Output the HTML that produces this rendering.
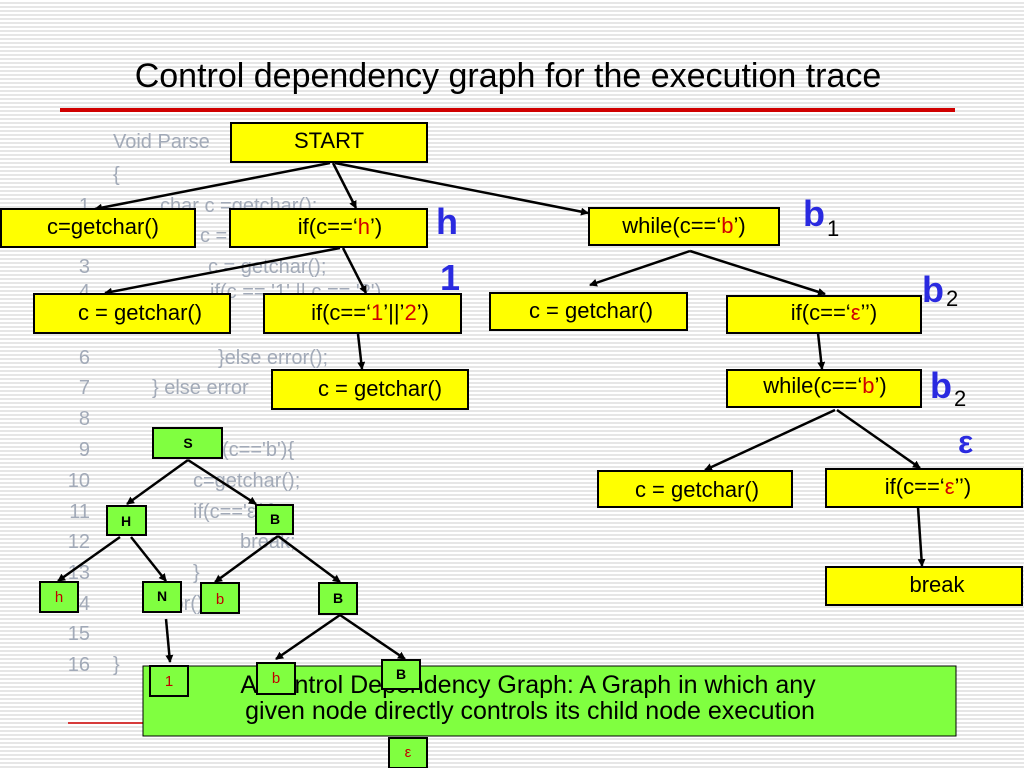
<!DOCTYPE html>
<html><head><meta charset="utf-8"><style>
html,body{margin:0;padding:0}
body{width:1024px;height:768px;overflow:hidden;background:#fff repeating-linear-gradient(180deg,#fff 0,#fff 2px,#e6e6e6 2px,#e6e6e6 4px);}
svg{position:absolute;left:0;top:0}
text{font-family:"Liberation Sans","DejaVu Sans",sans-serif}
</style></head><body>
<svg width="1024" height="768" viewBox="0 0 1024 768">
<defs><marker id="a" markerWidth="8" markerHeight="8" refX="7" refY="4" orient="auto" markerUnits="userSpaceOnUse"><path d="M0,0 L8,4 L0,8 z" fill="#000"/></marker></defs>
<text x="508" y="87" font-size="34" text-anchor="middle" fill="#000">Control dependency graph for the execution trace</text>
<rect x="60" y="108" width="895" height="4" fill="#d00000"/>
<line x1="68" y1="723" x2="955" y2="723" stroke="#d00000" stroke-width="1.5"/>
<g fill="#a2aab8" font-size="20">
<text x="113" y="148">Void Parse</text>
<text x="113" y="181">{</text>
<text x="160" y="212">char c =getchar();</text>
<text x="200" y="242">c =</text>
<text x="208" y="273">c = getchar();</text>
<text x="210" y="298">if(c == '1' || c == '2')</text>
<text x="218" y="364">}else error();</text>
<text x="152" y="394">} else error</text>
<text x="222" y="456">(c=='b'){</text>
<text x="193" y="487">c=getchar();</text>
<text x="193" y="518">if(c=='ε'){</text>
<text x="240" y="548">break;</text>
<text x="193" y="579">}</text>
<text x="148" y="610">error();</text>
<text x="113" y="671">}</text>
<g text-anchor="end">
<text x="90" y="212">1</text><text x="90" y="273">3</text><text x="90" y="298">4</text><text x="90" y="333">5</text>
<text x="90" y="364">6</text><text x="90" y="394">7</text><text x="90" y="425">8</text><text x="90" y="456">9</text>
<text x="90" y="487">10</text><text x="90" y="518">11</text><text x="90" y="548">12</text><text x="90" y="579">13</text>
<text x="90" y="610">14</text><text x="90" y="640">15</text><text x="90" y="671">16</text>
</g></g>
<g stroke="#000" stroke-width="2.5" fill="none" marker-end="url(#a)">
<line x1="330" y1="163" x2="95" y2="209"/>
<line x1="333" y1="163" x2="356" y2="208"/>
<line x1="335" y1="163" x2="588" y2="213"/>
<line x1="340" y1="248" x2="105" y2="293"/>
<line x1="343" y1="248" x2="366" y2="293"/>
<line x1="358" y1="334" x2="362" y2="369"/>
<line x1="690" y1="251" x2="590" y2="285"/>
<line x1="690" y1="251" x2="825" y2="294"/>
<line x1="818" y1="333" x2="822" y2="369"/>
<line x1="835" y1="410" x2="705" y2="470"/>
<line x1="837" y1="410" x2="920" y2="468"/>
<line x1="918" y1="507" x2="922" y2="566"/>
<line x1="188" y1="460" x2="127" y2="504"/>
<line x1="188" y1="460" x2="256" y2="504"/>
<line x1="120" y1="537" x2="58" y2="581"/>
<line x1="131" y1="537" x2="166" y2="581"/>
<line x1="278" y1="536" x2="215" y2="582"/>
<line x1="278" y1="536" x2="340" y2="582"/>
<line x1="166" y1="619" x2="170" y2="662"/>
<line x1="340" y1="615" x2="276" y2="659"/>
<line x1="340" y1="615" x2="405" y2="659"/>
<line x1="400" y1="690" x2="404" y2="735"/>
</g>
<rect x="143" y="666" width="813" height="70" fill="#80ff40" stroke="#000" stroke-width="1"/>
<text x="528" y="693" font-size="25" text-anchor="middle">A Control Dependency Graph: A Graph in which any</text>
<text x="530" y="719" font-size="25" text-anchor="middle">given node directly controls its child node execution</text>
<g stroke="#000" stroke-width="2" fill="#ffff00">
<rect x="231" y="123" width="196" height="39"/>
<rect x="1" y="209" width="194" height="38"/>
<rect x="230" y="209" width="197" height="38"/>
<rect x="589" y="208" width="190" height="37"/>
<rect x="34" y="294" width="196" height="39"/>
<rect x="264" y="294" width="197" height="39"/>
<rect x="490" y="293" width="197" height="37"/>
<rect x="727" y="296" width="194" height="37"/>
<rect x="272" y="370" width="196" height="39"/>
<rect x="727" y="370" width="194" height="37"/>
<rect x="598" y="471" width="194" height="36"/>
<rect x="826" y="469" width="196" height="38"/>
<rect x="826" y="567" width="196" height="38"/>
</g>
<g font-size="22" text-anchor="middle" fill="#000">
<text x="329" y="148">START</text>
<text x="103" y="234">c=getchar()</text>
<text x="340" y="234">if(c==‘<tspan fill="#d00000">h</tspan>’)</text>
<text x="684" y="233">while(c==‘<tspan fill="#d00000">b</tspan>’)</text>
<text x="140" y="320">c = getchar()</text>
<text x="370" y="320">if(c==‘<tspan fill="#d00000">1</tspan>’||’<tspan fill="#d00000">2</tspan>’)</text>
<text x="591" y="318">c = getchar()</text>
<text x="834" y="320">if(c==‘<tspan fill="#d00000">ε</tspan>’’)</text>
<text x="380" y="396">c = getchar()</text>
<text x="825" y="393">while(c==‘<tspan fill="#d00000">b</tspan>’)</text>
<text x="697" y="497">c = getchar()</text>
<text x="928" y="494">if(c==‘<tspan fill="#d00000">ε</tspan>’’)</text>
<text x="937" y="592">break</text>
</g>
<g font-weight="bold" font-size="36" fill="#2a2ae0">
<text x="436" y="234">h</text>
<text x="440" y="290">1</text>
<text x="803" y="226">b</text>
<text x="922" y="302">b</text>
<text x="930" y="398">b</text>
<text x="958" y="453" font-size="32">ε</text>
</g>
<g font-size="22" fill="#000">
<text x="827" y="236">1</text><text x="946" y="306">2</text><text x="954" y="406">2</text>
</g>
<g stroke="#000" stroke-width="2" fill="#80ff40">
<rect x="153" y="428" width="69" height="30"/>
<rect x="107" y="506" width="39" height="29"/>
<rect x="256" y="505" width="37" height="29"/>
<rect x="40" y="582" width="38" height="30"/>
<rect x="143" y="582" width="38" height="30"/>
<rect x="201" y="583" width="38" height="30"/>
<rect x="319" y="583" width="38" height="31"/>
<rect x="150" y="666" width="38" height="30"/>
<rect x="257" y="663" width="38" height="31"/>
<rect x="382" y="660" width="38" height="29"/>
<rect x="389" y="738" width="38" height="30"/>
</g>
<g font-size="14" font-weight="bold" text-anchor="middle" fill="#000">
<text x="188" y="448">S</text>
<text x="126" y="526">H</text>
<text x="275" y="524">B</text>
<text x="162" y="601">N</text>
<text x="338" y="603">B</text>
<text x="401" y="679">B</text>
</g>
<g font-size="15" text-anchor="middle" fill="#c00000">
<text x="59" y="602">h</text>
<text x="220" y="604">b</text>
<text x="169" y="686">1</text>
<text x="276" y="683">b</text>
<text x="408" y="757">ε</text>
</g>
</svg>
</body></html>
